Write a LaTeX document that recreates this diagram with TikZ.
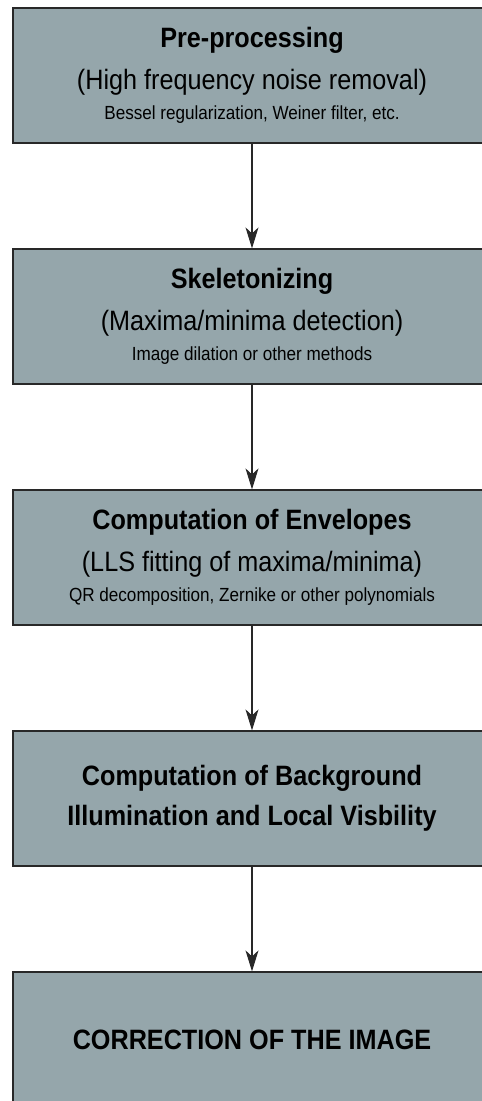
\documentclass[tikz,border=0pt]{standalone}
\usepackage{fontspec}
\setmainfont[FakeStretch=0.9]{Liberation Sans}
\usetikzlibrary{arrows.meta}
\definecolor{boxgray}{RGB}{149,166,171}
\definecolor{edgegray}{RGB}{40,40,40}

\begin{document}
\begin{tikzpicture}
[x=1pt,y=-1pt,
stage/.style={rectangle,draw=edgegray,fill=boxgray,line width=1.2pt,minimum width=478pt,minimum height=135pt,inner sep=0pt,align=center,font=\fontsize{28}{30}\selectfont},
flow/.style={draw=edgegray,line width=1.2pt,-{Stealth[length=21pt,width=13pt,inset=6pt]}}]
\useasboundingbox (0,0) rectangle (482,1101);
% five processing stages, one under the other
\node at (252,75.5) [stage] (pre) {{\bfseries Pre-processing}\\[12pt]
  (High frequency noise removal)\\
  \fontsize{19}{22}\selectfont Bessel regularization, Weiner filter, etc.};
\node at (252,316.5) [stage] (skel) {{\bfseries Skeletonizing}\\[12pt]
  (Maxima/minima detection)\\
  \fontsize{19}{22}\selectfont Image dilation or other methods};
\node at (252,557.5) [stage] (env) {{\bfseries Computation of Envelopes}\\[12pt]
  (LLS fitting of maxima/minima)\\
  \fontsize{19}{22}\selectfont QR decomposition, Zernike or other polynomials};
\node at (252,798.5) [stage] (bgill) {\bfseries Computation of Background\\[10pt]
  \bfseries Illumination and Local Visbility};
\node at (252,1039.5) [stage] (corr) {\bfseries CORRECTION OF THE IMAGE};
% arrows between the stages
\draw [flow] (pre) -- (skel);
\draw [flow] (skel) -- (env);
\draw [flow] (env) -- (bgill);
\draw [flow] (bgill) -- (corr);
\end{tikzpicture}
\end{document}
